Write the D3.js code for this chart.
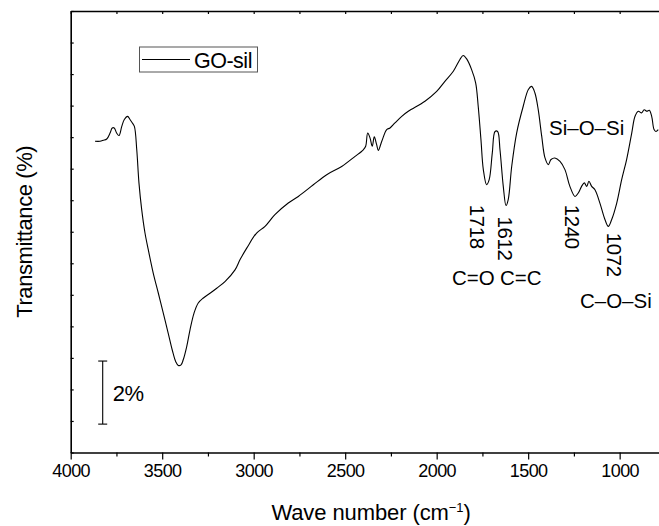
<!DOCTYPE html>
<html>
<head>
<meta charset="utf-8">
<script src="https://cdn.jsdelivr.net/npm/d3@7"></script>
<style>
  body { margin: 0; background: #fff; }
  svg text { font-family: "Liberation Sans", Arial, sans-serif; fill: #000; }
</style>
</head>
<body>
<div id="chart"></div>
<script>
// spectrum (wave number in cm-1, transmittance in % with arbitrary offset)
var wavenumber = [3867, 3840, 3822, 3803, 3785, 3773, 3762, 3749, 3736, 3721, 3707, 3689, 3676, 3663, 3652,
  3639, 3627, 3612, 3594, 3576, 3549, 3521, 3494, 3467, 3445, 3426, 3412, 3397, 3385, 3366, 3348, 3326, 3303,
  3275, 3239, 3202, 3157, 3102, 3075, 3038, 2984, 2938, 2884, 2811, 2756, 2674, 2601, 2519, 2446, 2401, 2388,
  2377, 2364, 2352, 2341, 2328, 2319, 2300, 2273, 2255, 2228, 2191, 2155, 2064, 2000, 1955, 1909, 1873, 1855,
  1836, 1809, 1787, 1773, 1758, 1745, 1727, 1713, 1696, 1681, 1667, 1654, 1636, 1621, 1609, 1590, 1563, 1527,
  1499, 1481, 1463, 1445, 1426, 1408, 1390, 1375, 1354, 1326, 1299, 1272, 1244, 1226, 1208, 1193, 1180, 1168,
  1153, 1135, 1108, 1080, 1062, 1044, 1016, 989, 962, 934, 916, 898, 880, 866, 851, 838, 825, 812, 802, 789];
var transmittance = [9.87, 9.87, 9.90, 9.94, 10.13, 10.29, 10.29, 10.13, 10.05, 10.34, 10.56, 10.66, 10.56, 10.45, 10.34,
  9.60, 8.55, 7.70, 6.96, 6.43, 5.69, 5.05, 4.42, 3.78, 3.25, 2.88, 2.76, 2.78, 2.94, 3.36, 3.89, 4.42, 4.74,
  4.90, 5.05, 5.21, 5.42, 5.79, 6.11, 6.48, 6.96, 7.17, 7.54, 7.91, 8.12, 8.49, 8.81, 9.07, 9.39, 9.60, 9.71,
  10.13, 9.97, 9.71, 10.01, 9.76, 9.58, 9.87, 10.24, 10.29, 10.45, 10.66, 10.82, 11.14, 11.45, 11.77, 12.09, 12.46, 12.59,
  12.48, 12.14, 11.72, 10.98, 9.92, 8.97, 8.49, 8.65, 9.50, 10.18, 10.18, 9.60, 8.44, 7.83, 8.02, 9.07, 10.13, 10.98,
  11.51, 11.61, 11.40, 10.87, 10.03, 9.34, 9.13, 9.29, 9.34, 9.23, 8.97, 8.44, 8.12, 8.23, 8.44, 8.55, 8.44, 8.60,
  8.44, 8.33, 7.91, 7.38, 7.17, 7.38, 7.91, 8.65, 9.29, 10.13, 10.66, 10.82, 10.77, 10.87, 10.82, 10.85, 10.66, 10.24, 10.18, 10.24];

var xMajorTicks = [4000, 3500, 3000, 2500, 2000, 1500, 1000];
var xMinorTicks = [3750, 3250, 2750, 2250, 1750, 1250];
var yTicks = d3.range(0, 15, 1);

// peak numbers (rotated) and group names, anchored in data units
var peakLabels = ["1718", "1612", "1240", "1072"];
var peakLabelWn = [1818, 1665, 1299, 1069];
var peakLabelT = [7.86, 7.48, 7.86, 6.97];
var groupLabels = ["C=O", "C=C", "C\u2013O\u2013Si", "Si\u2013O\u2013Si"];
var groupLabelWn = [1916, 1654, 1217, 1386];
var groupLabelT = [5.32, 5.32, 4.59, 10.08];

var width = 659, height = 526;
var plotLeft = 70.7, plotRight = 659, plotTop = 11, plotBottom = 452.5;

var svg = d3.select("#chart").append("svg").attr("width", width).attr("height", height);

var x = d3.scaleLinear().domain([4000, 785]).range([plotLeft, plotRight]);
var y = d3.scaleLinear().domain([0, 14]).range([plotBottom, plotTop]);

svg.append("clipPath").attr("id", "clip")
  .append("rect").attr("x", plotLeft).attr("y", plotTop)
  .attr("width", plotRight - plotLeft).attr("height", plotBottom - plotTop);

// axes
var gBottom = svg.append("g").attr("transform", "translate(0," + plotBottom + ")")
  .call(d3.axisBottom(x).tickValues(xMajorTicks).tickSizeInner(7).tickSizeOuter(0).tickPadding(5)
    .tickFormat(d3.format("d")));
gBottom.selectAll("text").attr("font-size", 18).attr("letter-spacing", -0.6)
  .style("font-family", '"Liberation Sans", Arial, sans-serif');

svg.append("g").attr("transform", "translate(0," + plotBottom + ")")
  .call(d3.axisBottom(x).tickValues(xMinorTicks).tickSizeInner(4).tickSizeOuter(0).tickFormat(""))
  .select(".domain").remove();

svg.append("g").attr("transform", "translate(0," + plotTop + ")")
  .call(d3.axisTop(x).tickValues(d3.range(4000, 785, -250)).tickSizeInner(-3).tickSizeOuter(0).tickFormat(""));

svg.append("g").attr("transform", "translate(" + plotLeft + ",0)")
  .call(d3.axisLeft(y).tickValues(yTicks).tickSizeInner(-3).tickSizeOuter(0).tickFormat(""));

svg.selectAll(".domain").attr("stroke", "#000").attr("stroke-width", 1.6);
svg.selectAll(".tick line").attr("stroke", "#000").attr("stroke-width", 1.2);

// spectrum
var line = d3.line()
  .x(function(d, i) { return x(wavenumber[i]); })
  .y(function(d, i) { return y(transmittance[i]); })
  .curve(d3.curveCatmullRom.alpha(0.5));

svg.append("path")
  .datum(wavenumber)
  .attr("clip-path", "url(#clip)")
  .attr("fill", "none")
  .attr("stroke", "#000")
  .attr("stroke-width", 1.1)
  .attr("d", line);

// axis titles
svg.append("text")
  .attr("x", 371).attr("y", 520)
  .attr("text-anchor", "middle")
  .attr("font-size", 22)
  .attr("letter-spacing", -0.1)
  .html('Wave number (cm<tspan dy="-8" font-size="13">\u22121</tspan><tspan dy="8">)</tspan>');

svg.append("text")
  .attr("transform", "translate(32," + (plotTop + plotBottom) / 2 + ") rotate(-90)")
  .attr("text-anchor", "middle")
  .attr("font-size", 22)
  .attr("letter-spacing", -0.4)
  .text("Transmittance (%)");

// legend
var legend = svg.append("g");
legend.append("rect").attr("x", 139.5).attr("y", 47).attr("width", 118).attr("height", 25)
  .attr("fill", "#fff").attr("stroke", "#555").attr("stroke-width", 1);
legend.append("line").attr("x1", 142).attr("x2", 190).attr("y1", 59.5).attr("y2", 59.5)
  .attr("stroke", "#000").attr("stroke-width", 1.1);
legend.append("text").attr("x", 194).attr("y", 67.5).attr("font-size", 21.5).attr("letter-spacing", -0.5).text("GO-sil");

// 2% scale bar
var barX = 102.7, barFrom = 0.9, barLen = 2;
svg.append("line").attr("x1", barX).attr("x2", barX).attr("y1", y(barFrom)).attr("y2", y(barFrom + barLen))
  .attr("stroke", "#000").attr("stroke-width", 1.1);
[barFrom, barFrom + barLen].forEach(function(v) {
  svg.append("line").attr("x1", barX - 4.5).attr("x2", barX + 4.5).attr("y1", y(v)).attr("y2", y(v))
    .attr("stroke", "#000").attr("stroke-width", 1.1);
});
svg.append("text").attr("x", barX + 10).attr("y", y(barFrom + barLen / 2) + 8)
  .attr("font-size", 22).attr("letter-spacing", -0.3).text(barLen + "%");

// peak annotations
peakLabels.forEach(function(t, i) {
  svg.append("text")
    .attr("transform", "translate(" + x(peakLabelWn[i]) + "," + y(peakLabelT[i]) + ") rotate(90)")
    .attr("font-size", 20.5).attr("letter-spacing", -0.4)
    .text(t);
});
groupLabels.forEach(function(t, i) {
  svg.append("text")
    .attr("x", x(groupLabelWn[i])).attr("y", y(groupLabelT[i]))
    .attr("font-size", 20.5).attr("letter-spacing", 0)
    .text(t);
});
</script>
</body>
</html>
